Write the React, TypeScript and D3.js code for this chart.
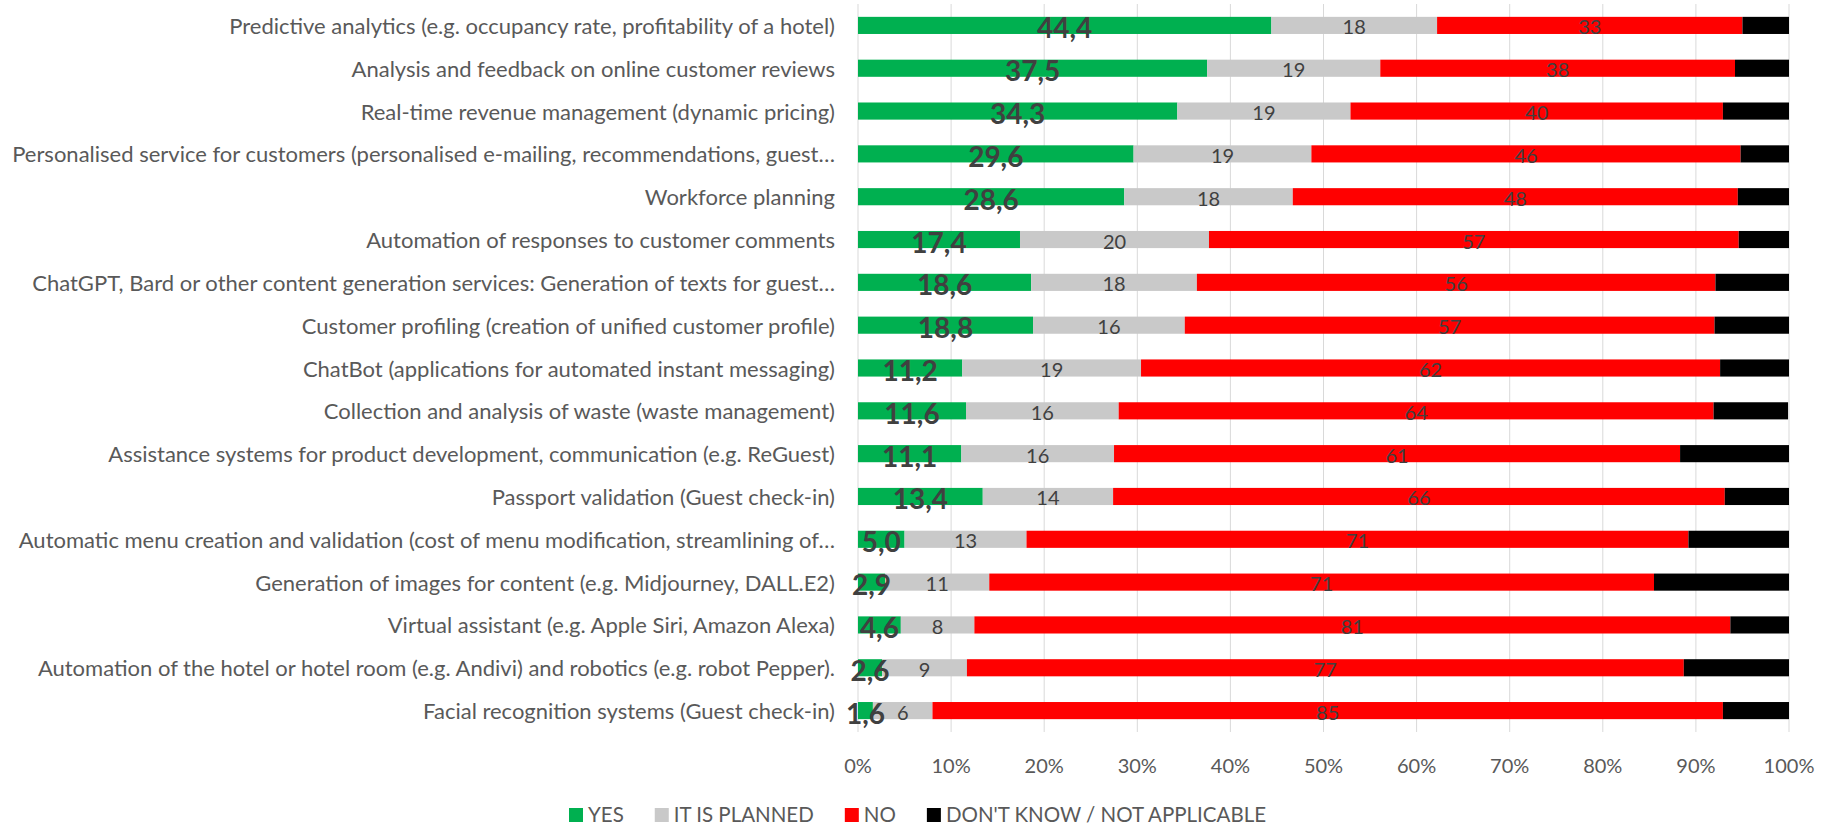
import React, { useEffect, useRef } from 'react';
import * as d3 from 'd3';

const categories = [
  'Predictive analytics (e.g. occupancy rate, profitability of a hotel)',
  'Analysis and feedback on online customer reviews',
  'Real-time revenue management (dynamic pricing)',
  'Personalised service for customers (personalised e-mailing, recommendations, guest…',
  'Workforce planning',
  'Automation of responses to customer comments',
  'ChatGPT, Bard or other content generation services: Generation of texts for guest…',
  'Customer profiling (creation of unified customer profile)',
  'ChatBot (applications for automated instant messaging)',
  'Collection and analysis of waste (waste management)',
  'Assistance systems for product development, communication (e.g. ReGuest)',
  'Passport validation (Guest check-in)',
  'Automatic menu creation and validation (cost of menu modification, streamlining of…',
  'Generation of images for content (e.g. Midjourney, DALL.E2)',
  'Virtual assistant (e.g. Apple Siri, Amazon Alexa)',
  'Automation of the hotel or hotel room (e.g. Andivi) and robotics (e.g. robot Pepper).',
  'Facial recognition systems (Guest check-in)',
];

const yes = [44.4, 37.5, 34.3, 29.6, 28.6, 17.4, 18.6, 18.8, 11.2, 11.6, 11.1, 13.4, 5.0, 2.9, 4.6, 2.6, 1.6];
const planned = [17.8, 18.6, 18.6, 19.1, 18.1, 20.3, 17.8, 16.3, 19.2, 16.4, 16.4, 14.0, 13.1, 11.2, 7.9, 9.1, 6.4];
const no = [32.8, 38.1, 40.0, 46.1, 47.8, 56.9, 55.7, 56.9, 62.2, 63.9, 60.8, 65.7, 71.1, 71.4, 81.2, 77.0, 84.9];
const dontKnow = [5.0, 5.8, 7.1, 5.2, 5.5, 5.4, 7.9, 8.0, 7.4, 8.0, 11.7, 6.9, 10.8, 14.5, 6.3, 11.3, 7.1];

const seriesNames = ['YES', 'IT IS PLANNED', 'NO', "DON'T KNOW / NOT APPLICABLE"];
const seriesColors = ['#00B050', '#C9C9C9', '#FF0000', '#000000'];
const ticks = [0, 10, 20, 30, 40, 50, 60, 70, 80, 90, 100];

const FONT = 'Lato, "Open Sans", sans-serif';

const App = () => {
  const svgRef = useRef<SVGSVGElement>(null);

  useEffect(() => {
    const width = 1833;
    const height = 825;
    const svg = d3.select(svgRef.current).attr('width', width).attr('height', height);
    svg.selectAll('*').remove();

    const rows = categories.map((c, i) => ({
      category: c,
      yes: yes[i],
      planned: planned[i],
      no: no[i],
      dontKnow: dontKnow[i],
    }));
    const keys = ['yes', 'planned', 'no', 'dontKnow'];

    const x = d3.scaleLinear().domain([0, 100]).range([858, 1789]);
    const y = d3.scaleBand().domain(categories).range([4, 732]).paddingInner(0.6).paddingOuter(0.3);

    // gridlines
    svg.append('g')
      .selectAll('line')
      .data(ticks)
      .join('line')
      .attr('x1', d => x(d))
      .attr('x2', d => x(d))
      .attr('y1', 4)
      .attr('y2', 732)
      .attr('stroke', '#D9D9D9')
      .attr('stroke-width', 1);

    const stack = d3.stack().keys(keys)(rows as any);

    svg.append('g')
      .selectAll('g')
      .data(stack)
      .join('g')
      .attr('fill', (_, i) => seriesColors[i])
      .selectAll('rect')
      .data(d => d)
      .join('rect')
      .attr('x', d => x(d[0]))
      .attr('width', d => x(d[1]) - x(d[0]))
      .attr('y', d => y((d.data as any).category)!)
      .attr('height', y.bandwidth());

    // data labels
    const labels = svg.append('g').attr('font-family', FONT).attr('fill', '#404040').attr('text-anchor', 'middle');
    stack.slice(0, 3).forEach((layer, li) => {
      labels.append('g')
        .selectAll('text')
        .data(layer)
        .join('text')
        .attr('x', d => x((d[0] + d[1]) / 2))
        .attr('y', d => y((d.data as any).category)! + y.bandwidth() / 2 + (li === 0 ? 2 : 1))
        .attr('dominant-baseline', 'central')
        .attr('font-size', li === 0 ? 28 : 20)
        .attr('font-weight', li === 0 ? 'bold' : 'normal')
        .text(d => li === 0 ? (d[1] - d[0]).toFixed(1).replace('.', ',') : String(Math.round(d[1] - d[0])));
    });

    // category labels
    svg.append('g')
      .selectAll('text')
      .data(categories)
      .join('text')
      .attr('x', 835)
      .attr('y', d => y(d)! + y.bandwidth() / 2)
      .attr('dominant-baseline', 'central')
      .attr('text-anchor', 'end')
      .attr('font-family', FONT)
      .attr('font-size', 22)
      .attr('fill', '#595959')
      .text(d => d);

    // x tick labels
    svg.append('g')
      .selectAll('text')
      .data(ticks)
      .join('text')
      .attr('x', d => x(d))
      .attr('y', 765)
      .attr('dominant-baseline', 'central')
      .attr('text-anchor', 'middle')
      .attr('font-family', FONT)
      .attr('font-size', 20)
      .attr('fill', '#595959')
      .text(d => d + '%');

    // legend
    const legend = svg.append('g').attr('font-family', FONT).attr('font-size', 20.5).attr('fill', '#595959');
    let lx = 569;
    seriesNames.forEach((name, i) => {
      legend.append('rect')
        .attr('x', lx)
        .attr('y', 808)
        .attr('width', 14)
        .attr('height', 14)
        .attr('fill', seriesColors[i]);
      const t = legend.append('text')
        .attr('x', lx + 19)
        .attr('y', 814)
        .attr('dominant-baseline', 'central')
        .text(name);
      const w = (t.node() as SVGTextElement).getComputedTextLength();
      lx += 19 + w + 31;
    });
  }, []);

  return (
    <svg ref={svgRef} style={{ position: 'absolute', left: 0, top: 0, background: '#fff' }}></svg>
  );
};

export default App;
